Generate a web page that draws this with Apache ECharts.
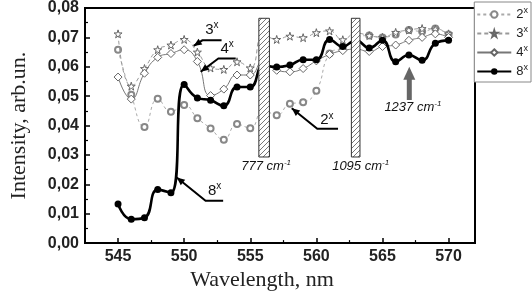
<!DOCTYPE html>
<html><head><meta charset="utf-8">
<script src="https://cdn.jsdelivr.net/npm/echarts@6/dist/echarts.min.js"></script>
<style>html,body{margin:0;padding:0;background:#fff}#c{width:532px;height:296px}</style>
</head><body><div id="c"></div>
<script>
// ---- data ----
const wavelengths = [545,546,547,548,549,550,551,552,553,554,555,556,557,558,559,560,561,562,563,564,565,566,567,568,569,570];
const series2x = [0.0658,0.0505,0.0395,0.0491,0.0447,0.0470,0.0425,0.0390,0.0352,0.0405,0.0391,0.0454,0.0435,0.0474,0.0479,0.0518,0.0645,0.0664,0.0700,0.0706,0.0700,0.0710,0.0725,0.0720,0.0730,0.0710];
const series3x = [0.0712,0.0534,0.0594,0.0658,0.0674,0.0693,0.0650,0.0596,0.0591,0.0617,0.0596,0.0710,0.0693,0.0704,0.0699,0.0716,0.0722,0.0692,0.0715,0.0706,0.0700,0.0717,0.0725,0.0730,0.0728,0.0712];
const series4x = [0.0565,0.0490,0.0578,0.0632,0.0645,0.0658,0.0618,0.0502,0.0524,0.0572,0.0572,0.0622,0.0588,0.0583,0.0594,0.0620,0.0642,0.0655,0.0660,0.0652,0.0669,0.0674,0.0690,0.0700,0.0712,0.0700];
const series8x = [0.0133,0.0081,0.0086,0.0182,0.0171,0.0540,0.0494,0.0486,0.0467,0.0531,0.0531,0.0604,0.0599,0.0606,0.0624,0.0624,0.0693,0.0669,0.0690,0.0664,0.0690,0.0617,0.0640,0.0622,0.0680,0.0690];
const seriesNames = ['2','3','4','8'];
const xTickLabels = [545,550,555,560,565,570];
const xMinorTicks = [547.5,552.5,557.5,562.5,567.5];
const yTickLabels = [0,0.01,0.02,0.03,0.04,0.05,0.06,0.07,0.08];
// hatched bands [x0,x1,y0,y1] and labels
const bands = [[555.65,556.45,0.0293,0.0765],[562.65,563.3,0.0293,0.0765]];
const bandLabels = [{t:'777',at:[556.2,0.0261]},{t:'1095',at:[563.35,0.0261]}];
// callout arrows (data coords): tip, bend, end; label position
const callouts = [
  {n:'3',pts:[[550.72,0.0671],[551.38,0.0690],[552.83,0.0690]],at:[552.1,0.0726]},
  {n:'4',pts:[[551.25,0.0583],[552.59,0.0628],[553.9,0.0628]],at:[553.25,0.0660]},
  {n:'2',pts:[[558.14,0.0459],[560.07,0.0389],[561.64,0.0389]],at:[560.8,0.0418]},
  {n:'8',pts:[[549.44,0.0223],[551.62,0.0144],[552.95,0.0144]],at:[552.3,0.0178]}
];
const bigArrow = {tip:[567.03,0.0600],tail:[567.03,0.0487],label:'1237',at:[567.3,0.0462]};

// ---- pattern ----
const pc = document.createElement('canvas'); pc.width=5; pc.height=5;
const g = pc.getContext('2d'); g.fillStyle='#fff'; g.fillRect(0,0,5,5);
g.strokeStyle='#555'; g.lineWidth=0.8; g.beginPath();
g.moveTo(0,5); g.lineTo(5,0); g.moveTo(-1,1); g.lineTo(1,-1); g.moveTo(4,6); g.lineTo(6,4); g.stroke();

const chart = echarts.init(document.getElementById('c'));
const starPath = 'path://M50,0 L61,35 L98,35 L68,57 L79,91 L50,70 L21,91 L32,57 L2,35 L39,35 Z';
function mk(arr){ return wavelengths.map((w,i)=>[w,arr[i]]); }
const fmtY = v => v.toFixed(2).replace('.', ',');

const option = {
  animation:false,
  backgroundColor:'#fff',
  grid:{left:68,right:57,top:5,bottom:42,show:true,borderColor:'#000',borderWidth:2,backgroundColor:'transparent'},
  legend:{
    right:1, top:2, orient:'vertical', itemWidth:34, itemHeight:8, itemGap:4,
    padding:[4,3,4,2], borderColor:'#888', borderWidth:1, backgroundColor:'#fff',
    data:seriesNames,
    formatter: n => '{a|'+n+'}{s|x}',
    textStyle:{rich:{a:{fontFamily:'Liberation Sans',fontSize:13,color:'#222'},s:{fontFamily:'Liberation Sans',fontSize:9,verticalAlign:'top',padding:[0,0,8,0],color:'#222'}}}
  },
  xAxis:[{
    type:'value', min:542.5, max:572, interval:2.5,
    name:'Wavelength, nm', nameLocation:'middle', nameGap:19,
    nameTextStyle:{fontFamily:'Liberation Serif',fontSize:22,color:'#222',padding:[0,36,0,0]},
    axisLine:{lineStyle:{color:'#000',width:2}},
    axisTick:{inside:true,length:5,lineStyle:{width:1.5,color:'#000'},customValues:xTickLabels},
    axisLabel:{customValues:xTickLabels,fontFamily:'Liberation Sans',fontWeight:'bold',fontSize:16,color:'#222',margin:5},
    splitLine:{show:false}
  },{
    type:'value', min:542.5, max:572, position:'bottom',
    axisLine:{show:false},
    axisTick:{inside:true,length:3,lineStyle:{width:1.2,color:'#000'},customValues:xMinorTicks},
    axisLabel:{show:false}, splitLine:{show:false}
  }],
  yAxis:{
    type:'value', min:0, max:0.08, interval:0.01,
    name:'Intensity, arb.un.', nameLocation:'middle', nameGap:42,
    nameTextStyle:{fontFamily:'Liberation Serif',fontSize:22,color:'#222',padding:[0,0,13,0]},
    axisLine:{show:true,lineStyle:{color:'#000',width:2}},
    axisTick:{inside:true,length:5,lineStyle:{width:1.5,color:'#000'}},
    minorTick:{show:true,splitNumber:2,length:3,lineStyle:{color:'#000',width:1.2}},
    axisLabel:{formatter:fmtY,fontFamily:'Liberation Sans',fontWeight:'bold',fontSize:16,color:'#222',margin:6},
    splitLine:{show:false}
  },
  series:[
    {name:'2',type:'line',data:mk(series2x),smooth:0.5,symbol:'emptyCircle',symbolSize:6,
     lineStyle:{color:'#aaa',width:1,type:[3,3]},itemStyle:{color:'#888',borderColor:'#888',borderWidth:1},z:2},
    {name:'3',type:'line',data:mk(series3x),smooth:0.5,symbol:starPath,symbolSize:8,
     lineStyle:{color:'#999',width:1,type:[4,3]},itemStyle:{color:'#fff',borderColor:'#666',borderWidth:1},z:3},
    {name:'4',type:'line',data:mk(series4x),smooth:0.5,symbol:'diamond',symbolSize:8,
     lineStyle:{color:'#777',width:1},itemStyle:{color:'#fff',borderColor:'#666',borderWidth:1},z:4},
    {name:'8',type:'line',data:mk(series8x),smooth:0.5,symbol:'circle',symbolSize:7,
     lineStyle:{color:'#000',width:2.6},itemStyle:{color:'#000'},z:5,
     markArea:{silent:true,z:6,
       itemStyle:{color:{image:pc,repeat:'repeat'},borderColor:'#333',borderWidth:1},
       data:bands.map(b=>[{xAxis:b[0],yAxis:b[2]},{xAxis:b[1],yAxis:b[3]}])}}
  ]
};
chart.setOption(option);

// ---- annotations positioned from data coords ----
const P = p => chart.convertToPixel({gridIndex:0}, p);
const els = [];
const txtRich = {a:{fontFamily:'Liberation Sans',fontSize:15,fill:'#111'},s:{fontFamily:'Liberation Sans',fontSize:10,fill:'#111',verticalAlign:'top',padding:[0,0,9,0]}};
callouts.forEach(c=>{
  const pts = c.pts.map(P);
  els.push({type:'polyline',shape:{points:pts},style:{stroke:'#000',lineWidth:2,fill:null},z:100});
  const [tx,ty]=pts[0],[bx,by]=pts[1];
  const dx=tx-bx, dy=ty-by, L=Math.hypot(dx,dy), ux=dx/L, uy=dy/L;
  const hl=8, hw=3.5;
  els.push({type:'polygon',shape:{points:[[tx,ty],[tx-ux*hl-uy*hw,ty-uy*hl+ux*hw],[tx-ux*hl+uy*hw,ty-uy*hl-ux*hw]]},style:{fill:'#000'},z:100});
  const lp=P(c.at);
  els.push({type:'text',x:lp[0],y:lp[1],style:{text:'{a|'+c.n+'}{s|x}',rich:txtRich,align:'center',verticalAlign:'middle'},z:101});
});
const itRich = {a:{fontFamily:'Liberation Sans',fontStyle:'italic',fontSize:13,fill:'#111'},s:{fontFamily:'Liberation Sans',fontStyle:'italic',fontSize:8,fill:'#111',verticalAlign:'top',padding:[0,0,7,0]}};
bandLabels.forEach(b=>{
  const p=P(b.at);
  els.push({type:'text',x:p[0],y:p[1],style:{text:'{a|'+b.t+' cm}{s|-1}',rich:itRich,align:'center',verticalAlign:'middle'},z:101});
});
(function(){
  const t=P(bigArrow.tip), e=P(bigArrow.tail);
  els.push({type:'line',shape:{x1:e[0],y1:e[1],x2:t[0],y2:t[1]+10},style:{stroke:'#666',lineWidth:5},z:100});
  els.push({type:'polygon',shape:{points:[[t[0],t[1]],[t[0]-6,t[1]+13],[t[0]+6,t[1]+13]]},style:{fill:'#666'},z:100});
  const p=P(bigArrow.at);
  els.push({type:'text',x:p[0],y:p[1],style:{text:'{a|'+bigArrow.label+' cm}{s|-1}',rich:itRich,align:'center',verticalAlign:'middle'},z:101});
})();
chart.setOption({graphic:{elements:els}});
</script></body></html>
